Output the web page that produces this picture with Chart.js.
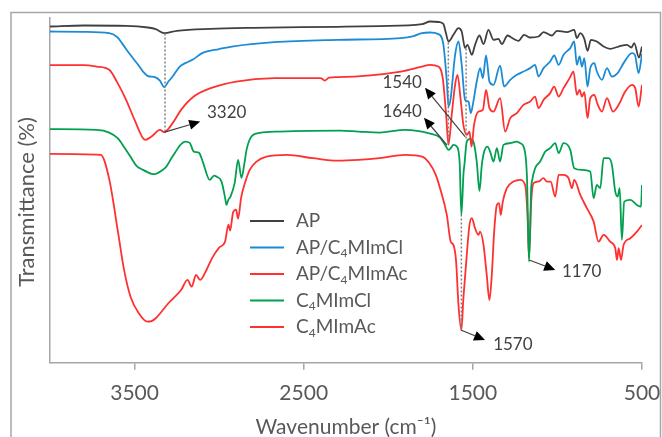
<!DOCTYPE html>
<html>
<head>
<meta charset="utf-8">
<script src="https://cdn.jsdelivr.net/npm/chart.js@4.4.0/dist/chart.umd.min.js"></script>
<style>
body{margin:0;background:#fff}
</style>
</head>
<body>
<canvas id="ftir" width="662" height="437"></canvas>
<script>
// FTIR spectra, curves offset vertically (arbitrary transmittance units)
const xTicks = [3500, 2500, 1500, 500];
const labels = ['AP', 'AP/C₄MImCl', 'AP/C₄MImAc', 'C₄MImCl', 'C₄MImAc'];

// [wavenumber, transmittance]
const ap = [[4000,336],[3800,337],[3550,336.7],[3420,335],[3375,333.4],[3325,329.4],[3250,331.7],[3050,333.7],[2800,334.7],[2300,335.7],[2050,336.4],[1800,338.4],[1753,341],[1700,340.5],[1674,338.4],[1660,330],[1644,321],[1615,327.7],[1585,334.4],[1566,331],[1546,314.4],[1532,317.7],[1506,307.7],[1487,317.7],[1461,327],[1437,318.4],[1408,332.7],[1378,322.7],[1349,323.7],[1329,318.4],[1295,327],[1260,323.7],[1230,321.7],[1197,327.7],[1161,325],[1112,326],[1082,330.4],[1033,327],[1003,331.7],[944,330.4],[901,332.7],[885,324.4],[865,329.4],[841,323.7],[822,311.7],[802,322.7],[767,321],[727,316],[688,313.7],[638,316],[589,317.7],[563,315],[546,319.4],[518,305],[500,316]];

const apCl = [[4000,331],[3800,330.7],[3650,329.4],[3600,325],[3575,319.4],[3525,307.7],[3480,298],[3450,291],[3420,286.5],[3380,285.5],[3350,282],[3325,275.4],[3300,281],[3275,286],[3233,296],[3200,299.4],[3155,303],[3100,309.4],[3000,313.5],[2925,316],[2675,320.4],[2300,322.7],[1926,324.4],[1850,326.5],[1801,329.4],[1753,330],[1704,328.4],[1674,317.7],[1654,281],[1644,256],[1631,264.4],[1605,307.7],[1585,321],[1566,297.7],[1546,262.7],[1526,261],[1512,249.4],[1497,261],[1477,281],[1457,294.4],[1441,284.4],[1422,307],[1402,281],[1378,277.7],[1339,297],[1315,276],[1279,282.7],[1240,287.7],[1201,291],[1161,294.4],[1132,297.7],[1112,286],[1082,294.4],[1043,301],[1019,307],[993,297.7],[964,307.7],[924,314.4],[901,321],[885,297.7],[869,306],[855,296],[841,304.4],[822,276],[806,294.4],[782,299.4],[767,291],[737,282.7],[707,294.4],[678,286],[644,289.4],[609,299.4],[559,309.4],[542,307.7],[520,289.4],[500,308.4]];

const apAc = [[4000,297.4],[3800,297.4],[3724,296],[3650,292.7],[3600,279.4],[3550,262.7],[3500,242.7],[3437,222.7],[3400,226],[3350,232.7],[3325,230.4],[3275,239.4],[3225,252.7],[3150,266],[3050,274.4],[2900,281],[2675,284.4],[2400,284.5],[2376,282],[2350,285],[2300,285.4],[1926,291],[1801,296],[1753,297.7],[1704,296],[1678,284.4],[1658,247.7],[1644,217.7],[1625,247.7],[1605,277.7],[1591,287.7],[1571,261],[1556,237.7],[1536,227.7],[1520,231],[1508,216],[1493,237.7],[1467,251],[1441,252.7],[1422,272.7],[1402,254.4],[1378,251],[1339,264.4],[1309,231],[1279,244.4],[1240,249.4],[1201,257.7],[1161,261],[1132,266],[1112,254.4],[1082,262.7],[1043,269.4],[1019,276],[993,266],[964,274.4],[928,284.4],[905,291],[885,267.7],[869,272.7],[855,266],[841,270.4],[822,244.4],[806,264.4],[782,267.7],[763,258.4],[737,251],[707,264.4],[672,251],[638,257.7],[599,271],[559,277.7],[540,274.4],[520,256],[500,277.7]];

const cl = [[4000,233.4],[3724,232.7],[3650,230],[3600,224.4],[3560,215],[3525,206],[3490,197],[3450,192.7],[3400,188.8],[3380,188.4],[3340,192],[3312,196],[3280,205],[3250,212.7],[3233,217],[3200,221],[3174,219.7],[3150,211],[3120,210],[3097,201],[3056,182.7],[3030,187],[3016,186],[2986,181],[2965,165],[2957,157.7],[2945,163],[2933,166],[2908,179.7],[2888,202.7],[2868,184.7],[2850,200],[2838,212.7],[2809,226],[2760,229.7],[2641,231],[2286,232],[2176,231],[2051,230],[1901,232.7],[1753,229],[1694,225],[1664,217.7],[1644,212.7],[1631,214.4],[1615,217.7],[1595,216],[1578,200],[1568,147.7],[1555,190],[1550,197.7],[1536,221],[1516,223.7],[1497,221],[1477,201],[1461,171.7],[1447,197.7],[1433,211],[1414,216],[1398,211],[1378,201],[1358,214.4],[1339,201],[1319,217.7],[1279,219.4],[1240,221],[1220,219.4],[1197,214.4],[1180,185],[1168,101],[1155,175],[1151,181],[1132,194.4],[1102,201],[1072,211],[1043,214.4],[1013,219.4],[993,209.4],[964,219.4],[924,212.7],[901,194.4],[855,192.7],[806,191],[786,164.4],[767,177.7],[747,174.4],[727,204.4],[698,204.4],[678,197.7],[658,171],[644,166],[632,174.4],[619,122.7],[605,161],[569,162.7],[530,157.7],[506,156],[500,177.7]];

const ac = [[4000,208.7],[3700,207.7],[3649,182.7],[3600,132.7],[3562,92.7],[3524,66],[3475,49.4],[3425,41],[3400,41.5],[3375,44.4],[3300,59.4],[3225,72.7],[3187,82.7],[3162,76],[3137,87.7],[3112,82.7],[3075,92.7],[3040,105],[3000,115],[2965,121],[2945,138],[2935,132],[2918,150],[2900,153],[2888,144],[2870,165],[2848,179.4],[2819,192.7],[2779,201],[2720,206],[2600,207.7],[2445,204.4],[2300,202],[2176,202.7],[2051,204.4],[1901,207.7],[1800,206],[1760,200],[1720,188],[1694,174.4],[1654,147.7],[1631,121],[1615,117.7],[1599,101],[1585,57.7],[1568,32.7],[1556,64.4],[1536,107.7],[1520,137.7],[1506,144.4],[1487,134.4],[1467,127.7],[1457,131],[1437,117.7],[1418,87.7],[1402,62.7],[1388,87.7],[1374,131],[1358,157.7],[1345,159.4],[1335,147.7],[1323,161],[1299,174.4],[1260,181],[1220,182.7],[1191,177.7],[1177,147.7],[1168,104.4],[1155,161],[1141,179.4],[1112,181],[1082,184.4],[1062,181],[1040,181],[1013,166],[993,187.7],[964,187.7],[934,184.4],[914,174.4],[901,182.7],[865,167.7],[826,154.4],[786,141],[757,121],[727,127.7],[688,121],[658,114.4],[648,102.7],[638,114.4],[624,102.7],[609,117.7],[569,124.4],[530,131],[500,137.7]];

// dotted drop lines: [wavenumber, from, to]
const dropLines = [[3320,329,231],[1645,320,216],[1540,314,223],[1568,148,33]];

// peak labels with arrows, in data units
const peaks = [
  {text:'3320', from:[3322,230.4], to:[3112,241], at:[3072,249.7], align:'left'},
  {text:'1540', from:[1546,226], to:[1783,274.7], at:[1801,279.7], align:'right'},
  {text:'1640', from:[1654,217.7], to:[1789,244.7], at:[1801,250.7], align:'right'},
  {text:'1570', from:[1571,32.7], to:[1428,22.7], at:[1380,17.7], align:'left'},
  {text:'1170', from:[1167,102.7], to:[1013,92.7], at:[973,91], align:'left'}
];

const colors = ['#404040', '#1b8bd6', '#ff3030', '#00a050', '#ff3030'];
const series = [ap, apCl, apAc, cl, ac];

const FONT = 'Lato, "Open Sans", sans-serif';

function drawSubText(ctx, txt, x, y, size) {
  // draws text, with the unicode subscript 4 rendered small and lowered
  const parts = txt.split('₄');
  ctx.textBaseline = 'middle';
  ctx.textAlign = 'left';
  parts.forEach((p, i) => {
    ctx.font = size + 'px ' + FONT;
    ctx.fillText(p, x, y);
    x += ctx.measureText(p).width;
    if (i < parts.length - 1) {
      ctx.font = Math.round(size * 0.62) + 'px ' + FONT;
      ctx.fillText('4', x, y + size * 0.3);
      x += ctx.measureText('4').width;
    }
  });
}

const extras = {
  id: 'extras',
  beforeDraw(chart) {
    const ctx = chart.ctx;
    ctx.save();
    ctx.strokeStyle = '#a6a6a6';
    ctx.lineWidth = 1.5;
    ctx.strokeRect(11, 12.5, 649.5, 440);
    // y axis title, centred a bit below the plot middle like the original
    ctx.translate(27, 202);
    ctx.rotate(-Math.PI / 2);
    ctx.fillStyle = '#595959';
    ctx.font = '22px ' + FONT;
    ctx.textAlign = 'center';
    ctx.textBaseline = 'middle';
    ctx.fillText('Transmittance (%)', 0, 0);
    ctx.restore();
  },
  afterDatasetsDraw(chart) {
    const ctx = chart.ctx, sx = chart.scales.x, sy = chart.scales.y;
    ctx.save();
    ctx.strokeStyle = '#808080';
    ctx.lineWidth = 1.5;
    ctx.setLineDash([2, 2]);
    dropLines.forEach(d => {
      const x = sx.getPixelForValue(d[0]);
      ctx.beginPath();
      ctx.moveTo(x, sy.getPixelForValue(d[1]));
      ctx.lineTo(x, sy.getPixelForValue(d[2]));
      ctx.stroke();
    });
    ctx.setLineDash([]);

    peaks.forEach(p => {
      const x1 = sx.getPixelForValue(p.from[0]), y1 = sy.getPixelForValue(p.from[1]);
      const x2 = sx.getPixelForValue(p.to[0]), y2 = sy.getPixelForValue(p.to[1]);
      const a = Math.atan2(y2 - y1, x2 - x1);
      const L = 11, W = 5;
      ctx.strokeStyle = '#404040';
      ctx.lineWidth = 1.2;
      ctx.beginPath();
      ctx.moveTo(x1, y1);
      ctx.lineTo(x2 - L * Math.cos(a), y2 - L * Math.sin(a));
      ctx.stroke();
      ctx.fillStyle = '#000';
      ctx.beginPath();
      ctx.moveTo(x2, y2);
      ctx.lineTo(x2 - L * Math.cos(a) + W * Math.sin(a), y2 - L * Math.sin(a) - W * Math.cos(a));
      ctx.lineTo(x2 - L * Math.cos(a) - W * Math.sin(a), y2 - L * Math.sin(a) + W * Math.cos(a));
      ctx.closePath();
      ctx.fill();
      ctx.fillStyle = '#404040';
      ctx.font = '17px ' + FONT;
      ctx.textAlign = p.align;
      ctx.textBaseline = 'middle';
      ctx.fillText(p.text, sx.getPixelForValue(p.at[0]), sy.getPixelForValue(p.at[1]));
    });

    // legend
    chart.data.datasets.forEach((ds, i) => {
      const y = 221 + i * 26.5;
      ctx.strokeStyle = ds.borderColor;
      ctx.lineWidth = 2;
      ctx.beginPath();
      ctx.moveTo(250, y);
      ctx.lineTo(284, y);
      ctx.stroke();
      ctx.fillStyle = '#595959';
      drawSubText(ctx, ds.label, 296, y, 19);
    });
    ctx.restore();
  }
};

new Chart(document.getElementById('ftir'), {
  type: 'line',
  data: {
    datasets: series.map((s, i) => ({
      label: labels[i],
      data: s.map(p => ({x: p[0], y: p[1]})),
      borderColor: colors[i],
      borderWidth: 1.8,
      pointRadius: 0,
      cubicInterpolationMode: 'monotone',
      fill: false
    }))
  },
  options: {
    responsive: false,
    animation: false,
    layout: {padding: {left: 0, right: 20, top: 17.5, bottom: 0}},
    plugins: {legend: {display: false}, tooltip: {enabled: false}},
    scales: {
      x: {
        type: 'linear', reverse: true, min: 500, max: 4000,
        afterBuildTicks: s => { s.ticks = xTicks.map(v => ({value: v})); },
        afterFit: s => { s.height = 74.3; s.paddingLeft = 0; s.paddingRight = 0; },
        grid: {drawOnChartArea: false, drawTicks: true, tickLength: 7, color: '#a6a6a6', lineWidth: 1.5},
        border: {display: true, color: '#a6a6a6', width: 1.5},
        ticks: {font: {family: FONT, size: 21}, color: '#595959', padding: 11, maxRotation: 0, autoSkip: false, callback: v => String(v)},
        title: {display: true, text: 'Wavenumber (cm⁻¹)', font: {family: FONT, size: 21}, color: '#595959', padding: {top: 0, bottom: -3}}
      },
      y: {
        min: 0, max: 345,
        afterFit: s => { s.width = 50; },
        grid: {drawOnChartArea: false, drawTicks: false},
        border: {display: true, color: '#a6a6a6', width: 1.5},
        ticks: {display: false},
        title: {display: false}
      }
    }
  },
  plugins: [extras]
});
</script>
</body>
</html>
